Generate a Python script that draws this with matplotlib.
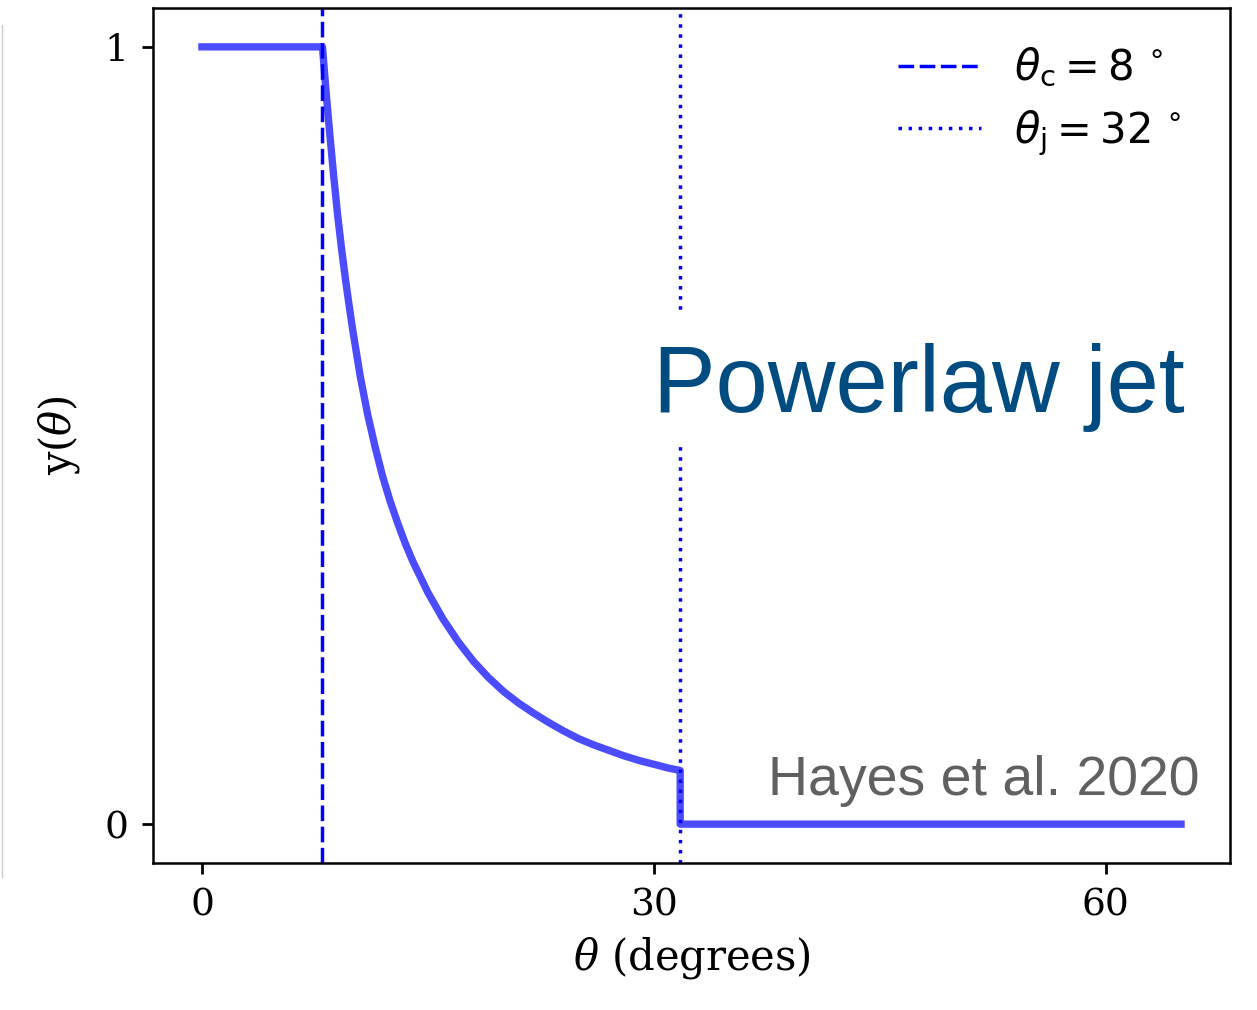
import matplotlib
matplotlib.use("Agg")
import matplotlib.pyplot as plt
from matplotlib.lines import Line2D
from matplotlib.patches import Rectangle

# ---- data ----
theta = [0, 8, 8.25, 8.5, 8.75, 9, 9.25, 9.5, 9.75, 10, 10.5, 11, 11.5, 12, 12.5, 13, 13.5, 14, 15, 16,
         17, 18, 19, 20, 21, 22, 23, 24, 25, 26, 27, 28, 29, 30, 31, 31.75, 31.75, 65]
yval = [1.0, 1.0, 0.940, 0.885, 0.833, 0.785, 0.743, 0.705, 0.670, 0.637, 0.577, 0.527, 0.485, 0.447,
        0.415, 0.387, 0.361, 0.338, 0.298, 0.264, 0.235, 0.210, 0.189, 0.171, 0.156, 0.143, 0.131,
        0.120, 0.110, 0.102, 0.095, 0.088, 0.082, 0.077, 0.072, 0.069, 0.0, 0.0]
theta_c = 8.0
theta_j_pos = 31.75
label_c = r'$\theta_{\rm c} = 8\,^\circ$'
label_j = r'$\theta_{\rm j} = 32\,^\circ$'
xticks = [0, 30, 60]
yticks = [0, 1]

W, H = 1257, 1010
fig = plt.figure(figsize=(W / 100, H / 100), dpi=100)
ax = fig.add_axes([153 / W, 1 - 863 / H, (1230 - 153) / W, (863 - 8) / H])

ax.plot(theta, yval, color='blue', alpha=0.7, lw=5.3, solid_joinstyle='round', zorder=3)
ax.axvline(theta_c, color='blue', lw=2.5, ls=(0, (4.5, 1.6)), label=label_c, zorder=2)
ax.axvline(theta_j_pos, color='blue', lw=2.5, ls=(0, (1, 1.9)), label=label_j, zorder=2)

ax.set_xticks(xticks)
ax.set_yticks(yticks)
ax.set_xticklabels([str(t) for t in xticks], family='DejaVu Serif', fontsize=27)
ax.set_yticklabels([str(t) for t in yticks], family='DejaVu Serif', fontsize=27)
ax.tick_params(length=8, width=2, pad=10)
for s in ax.spines.values():
    s.set_linewidth(1.8)

ax.set_xlabel(r'$\theta$ (degrees)', family='DejaVu Serif', fontsize=30, math_fontfamily='dejavuserif', labelpad=8)
ax.set_ylabel(r'y($\theta$)', family='DejaVu Serif', fontsize=30, math_fontfamily='dejavuserif', labelpad=16)

leg = ax.legend(loc='upper right', frameon=False, fontsize=30, handlelength=2.0,
                handletextpad=0.8, labelspacing=0.45, bbox_to_anchor=(0.99, 0.999))

fig.add_artist(Rectangle((640 / W, 1 - 443 / H), 560 / W, 131 / H, transform=fig.transFigure,
                         facecolor='white', edgecolor='none', zorder=4))
fig.text(1185 / W, 1 - 412 / H, 'Powerlaw jet', family='Liberation Sans', fontsize=67.5,
         color='#004c80', ha='right', va='baseline', zorder=5)
fig.text(1200 / W, 1 - 795 / H, 'Hayes et al. 2020', family='Liberation Sans', fontsize=40,
         color='#606060', ha='right', va='baseline', zorder=5)

fig.add_artist(Line2D([1.5 / W, 1.5 / W], [1 - 25 / H, 1 - 877 / H], transform=fig.transFigure,
                      color='#cccccc', lw=1))

fig.savefig('out.png', dpi=100)
